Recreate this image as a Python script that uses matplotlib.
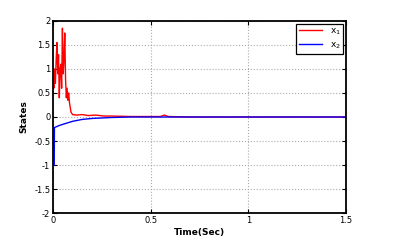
import numpy as np
import matplotlib
matplotlib.use("Agg")
import matplotlib.pyplot as plt

# x1 state (red)
t1 = [0.0, 0.004, 0.008, 0.012, 0.016, 0.020, 0.024, 0.028, 0.032, 0.036,
      0.040, 0.044, 0.048, 0.052, 0.056, 0.060, 0.064, 0.068, 0.072, 0.076,
      0.080, 0.084, 0.088, 0.092, 0.10, 0.12, 0.15, 0.18, 0.22, 0.26,
      0.30, 0.40, 0.55, 0.57, 0.59, 0.70, 1.5]
x1 = [0.8, 0.6, 1.0, 0.7, 1.2, 1.55, 0.9, 1.3, 0.4, 1.0,
      1.1, 0.6, 1.85, 0.9, 1.2, 1.75, 0.8, 0.4, 0.6, 0.35,
      0.5, 0.3, 0.2, 0.1, 0.05, 0.04, 0.05, 0.03, 0.04, 0.02,
      0.02, 0.01, 0.01, 0.04, 0.01, 0.0, 0.0]

# x2 state (blue)
t2 = [0.006, 0.007, 0.03, 0.06, 0.10, 0.15, 0.20, 0.30, 0.40, 1.5]
x2 = [-1.0, -0.22, -0.18, -0.14, -0.09, -0.05, -0.03, -0.01, 0.0, 0.0]

xticks = [0, 0.5, 1, 1.5]
yticks = [-2, -1.5, -1, -0.5, 0, 0.5, 1, 1.5, 2]

fig = plt.figure(figsize=(3.93, 2.44), dpi=100)
ax = fig.add_axes([0.135, 0.127, 0.745, 0.787])
ax.plot(t1, x1, color="red", lw=1.0, label=r"$\mathregular{x_1}$")
ax.plot(t2, x2, color="blue", lw=1.0, label=r"$\mathregular{x_2}$")

ax.set_xlim(0, 1.5)
ax.set_ylim(-2, 2)
ax.set_xticks(xticks)
ax.set_yticks(yticks)
ax.set_xticklabels(["0", "0.5", "1", "1.5"])
ax.set_yticklabels(["-2", "-1.5", "-1", "-0.5", "0", "0.5", "1", "1.5", "2"])
ax.tick_params(direction="in", top=True, right=True, labelsize=6, length=3, pad=2)
ax.grid(True, linestyle=":", color="#aaaaaa", lw=0.8)
for s in ax.spines.values():
    s.set_linewidth(1.3)

ax.set_xlabel("Time(Sec)", fontsize=6.5, fontweight="bold", labelpad=2)
ax.set_ylabel("States", fontsize=6.5, fontweight="bold", labelpad=4)

leg = ax.legend(loc="upper right", fontsize=6.5, fancybox=False, framealpha=1,
                edgecolor="black", handlelength=2.6, borderpad=0.3,
                labelspacing=0.4, borderaxespad=0.3)
leg.get_frame().set_linewidth(0.9)

fig.savefig("out.png", dpi=100)
